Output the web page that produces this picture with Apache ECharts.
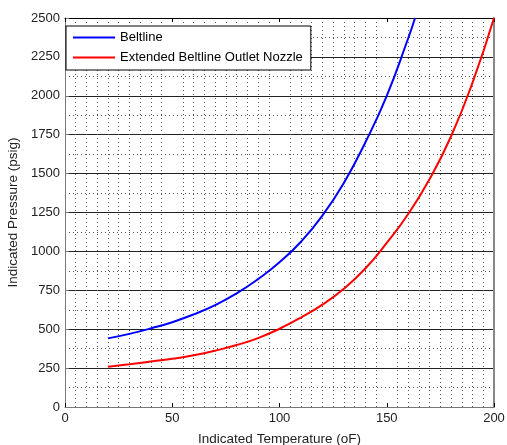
<!DOCTYPE html>
<html>
<head>
<meta charset="utf-8">
<script src="https://cdn.jsdelivr.net/npm/echarts@6/dist/echarts.min.js"></script>
<style>
  html, body { margin: 0; padding: 0; background: #fff; }
  #chart { width: 507px; height: 445px; }
</style>
</head>
<body>
<div id="chart"></div>
<script>
// values
const beltlineTemp = [20, 30, 40, 50, 60, 70, 80, 90, 100, 110, 120, 130, 140, 150, 160, 163.2];
const beltlinePress = [441, 470, 505, 545, 595, 655, 730, 822, 930, 1062, 1230, 1440, 1700, 2000, 2370, 2500];

const nozzleTemp = [20, 30, 40, 50, 60, 70, 80, 90, 100, 110, 120, 130, 140, 150, 160, 170, 180, 190, 200];
const nozzlePress = [259, 275, 292, 310, 332, 362, 398, 443, 503, 575, 658, 760, 890, 1055, 1240, 1465, 1740, 2085, 2500];

const seriesNames = ['Beltline', 'Extended Beltline Outlet Nozzle'];

function pairs(xs, ys) {
    let out = [];
    for (let i = 0; i < xs.length; i++) {
        out.push([xs[i], ys[i]]);
    }
    return out;
}

let myChart = echarts.init(document.getElementById('chart'));
const font = 'Liberation Sans, Arial, sans-serif';
const dots = { color: '#555', width: 1, type: [1, 3] };

let option = {
    animation: false,
    textStyle: { fontFamily: font },
    grid: { left: 65, right: 13, top: 18, bottom: 38, outerBoundsMode: 'none', containLabel: false },
    legend: {
        data: seriesNames,
        orient: 'vertical',
        left: 66,
        top: 26,
        backgroundColor: '#fff',
        borderColor: '#000',
        borderWidth: 1,
        borderRadius: 0,
        padding: [5, 8, 6, 7],
        itemGap: 7,
        itemWidth: 42,
        itemHeight: 2,
        icon: 'rect',
        textStyle: { fontFamily: font, fontSize: 13, color: '#000' }
    },
    xAxis: [{
        type: 'value',
        min: 0,
        max: 200,
        interval: 50,
        name: 'Indicated Temperature (oF)',
        nameLocation: 'middle',
        nameGap: 25,
        nameTextStyle: { fontFamily: font, fontSize: 13.5, color: '#222' },
        axisLine: { show: true, onZero: false, lineStyle: { color: '#777', width: 1 } },
        axisTick: { show: true, inside: true, length: 4, lineStyle: { color: '#000' } },
        axisLabel: { margin: 5, fontSize: 13, color: '#222', fontFamily: font },
        splitLine: { show: false },
        minorTick: { show: false, splitNumber: 10 },
        minorSplitLine: { show: true, lineStyle: dots }
    }, {
        type: 'value',
        position: 'top',
        min: 0,
        max: 200,
        interval: 50,
        axisLine: { show: true, onZero: false, lineStyle: { color: '#000', width: 1 } },
        axisTick: { show: true, inside: true, length: 4, lineStyle: { color: '#000' } },
        axisLabel: { show: false },
        splitLine: { show: false }
    }],
    yAxis: [{
        type: 'value',
        min: 0,
        max: 2500,
        interval: 250,
        name: 'Indicated Pressure (psig)',
        nameLocation: 'middle',
        nameGap: 45,
        nameTextStyle: { fontFamily: font, fontSize: 13.5, color: '#222' },
        axisLine: { show: true, onZero: false, lineStyle: { color: '#777', width: 1 } },
        axisTick: { show: true, inside: true, length: 4, lineStyle: { color: '#777' } },
        axisLabel: {
            margin: 5, fontSize: 13, color: '#222', fontFamily: font,
            formatter: function (v) { return String(v); }
        },
        splitLine: { show: true, lineStyle: { color: '#222', width: 1 } },
        minorTick: { show: false, splitNumber: 2 },
        minorSplitLine: { show: true, lineStyle: dots }
    }, {
        type: 'value',
        position: 'right',
        min: 0,
        max: 2500,
        interval: 250,
        axisLine: { show: true, onZero: false, lineStyle: { color: '#888', width: 2 } },
        axisTick: { show: false },
        axisLabel: { show: false },
        splitLine: { show: false }
    }],
    series: [{
        name: seriesNames[0],
        type: 'line',
        smooth: 0.5,
        showSymbol: false,
        lineStyle: { color: '#0000ff', width: 2 },
        itemStyle: { color: '#0000ff' },
        data: pairs(beltlineTemp, beltlinePress)
    }, {
        name: seriesNames[1],
        type: 'line',
        smooth: 0.5,
        showSymbol: false,
        lineStyle: { color: '#ff0000', width: 2 },
        itemStyle: { color: '#ff0000' },
        data: pairs(nozzleTemp, nozzlePress)
    }]
};

option && myChart.setOption(option);
</script>
</body>
</html>
